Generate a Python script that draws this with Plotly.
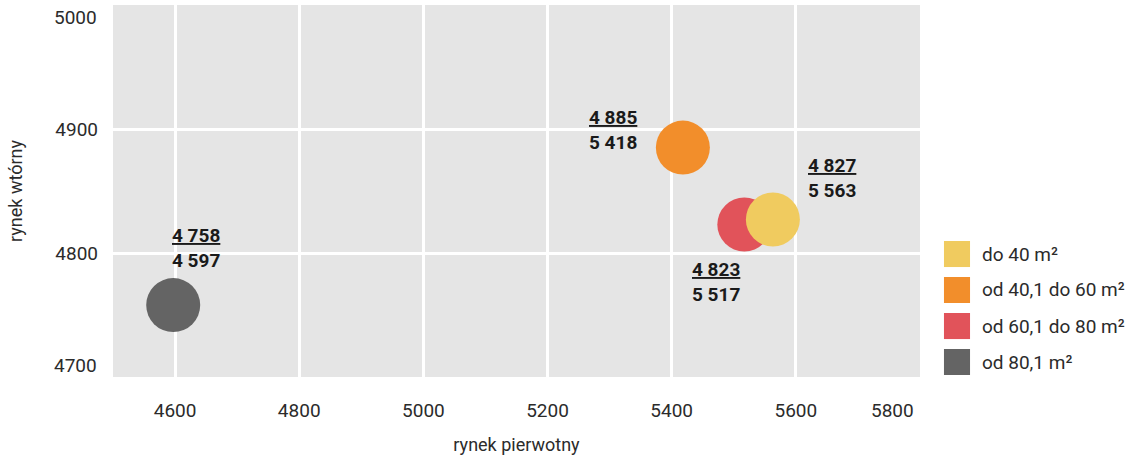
import plotly.graph_objects as go

categories = ["do 40 m²", "od 40,1 do 60 m²", "od 60,1 do 80 m²", "od 80,1 m²"]
rynek_pierwotny = [5563, 5418, 5517, 4597]
rynek_wtorny = [4827, 4885, 4823, 4758]
colors = ["#F0CB5F", "#F28E2B", "#E1535A", "#646464"]
label_shift_x = [59, -70, -28, 23]
label_shift_y = [42, 18, -58, 57]
x_ticks = [4600, 4800, 5000, 5200, 5400, 5600, 5800]
y_ticks = [4700, 4800, 4900, 5000]
x_range = [4500, 5800]
y_range = [4700, 5000]

TICK_FONT = dict(family="Roboto", size=19, color="#2b2b2b")

def fmt(v):
    return f"{v:,}".replace(",", " ")

fig = go.Figure()
for i in [3, 1, 2, 0]:
    fig.add_trace(go.Scatter(
        x=[rynek_pierwotny[i]], y=[rynek_wtorny[i]], mode="markers",
        marker=dict(size=54, color=colors[i], line=dict(width=0)),
        name=categories[i], showlegend=False, hoverinfo="skip"))
    fig.add_annotation(
        x=rynek_pierwotny[i], y=rynek_wtorny[i], xref="x", yref="y",
        text=f"<u>{fmt(rynek_wtorny[i])}</u><br>{fmt(rynek_pierwotny[i])}",
        showarrow=False, xshift=label_shift_x[i], yshift=label_shift_y[i],
        font=dict(family="Roboto", size=19, color="#1a1a1a", weight="bold"),
        align="left")

# tick labels at the range edges are drawn inset, as in the reference
inner_x = [v for v in x_ticks if x_range[0] < v < x_range[1]]
inner_y = [v for v in y_ticks if y_range[0] < v < y_range[1]]
for v in x_ticks:
    if v == x_range[1]:
        fig.add_annotation(x=v, y=0, xref="x", yref="paper", yanchor="top",
                           text=str(v), showarrow=False, xshift=-28, yshift=-20,
                           font=TICK_FONT)
for v in y_ticks:
    if v in (y_range[0], y_range[1]):
        fig.add_annotation(x=0, y=v, xref="paper", yref="y", xanchor="right",
                           text=str(v), showarrow=False, xshift=-14,
                           yshift=(-12 if v == y_range[1] else 12), font=TICK_FONT)

# legend drawn in paper coordinates
leg_y = [0.3306, 0.2339, 0.137, 0.0403]
for i, cat in enumerate(categories):
    fig.add_shape(type="rect", xref="paper", yref="paper",
                  x0=1.0297, x1=1.062, y0=leg_y[i] - 0.035, y1=leg_y[i] + 0.035,
                  fillcolor=colors[i], line=dict(width=0))
    fig.add_annotation(xref="paper", yref="paper", x=1.0743, y=leg_y[i],
                       text=cat, showarrow=False, xanchor="left", yanchor="middle",
                       font=dict(family="Roboto", size=19, color="#2b2b2b"))

fig.update_layout(
    width=1133, height=455,
    margin=dict(l=113, r=213, t=5, b=78, autoexpand=False),
    paper_bgcolor="white", plot_bgcolor="#E5E5E5",
    showlegend=False,
    font=dict(family="Roboto", color="#2b2b2b"),
)
fig.update_xaxes(range=x_range, tickvals=inner_x, ticktext=[str(v) for v in inner_x],
                 showgrid=True, gridcolor="white", gridwidth=2.5, zeroline=False,
                 showline=False, ticks="", ticklabelstandoff=20, automargin=False,
                 tickfont=TICK_FONT,
                 title=dict(text="rynek pierwotny", font=dict(family="Roboto", size=18, color="#2b2b2b"), standoff=20))
fig.update_yaxes(range=y_range, tickvals=inner_y, ticktext=[str(v) for v in inner_y],
                 showgrid=True, gridcolor="white", gridwidth=2.5, zeroline=False,
                 showline=False, ticks="", ticklabelstandoff=14, automargin=False,
                 tickfont=TICK_FONT,
                 title=dict(text="rynek wtórny", font=dict(family="Roboto", size=18, color="#2b2b2b"), standoff=27))

fig.write_html("out.html", config={"displayModeBar": False},
               post_script="document.body.style.margin='0';")
